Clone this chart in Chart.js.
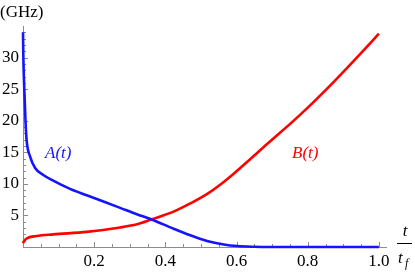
<!DOCTYPE html>
<html>
<head>
<meta charset="utf-8">
<script src="https://cdn.jsdelivr.net/npm/chart.js@4"></script>
<style>
  html, body { margin: 0; padding: 0; background: #fff; }
  #wrap { width: 415px; height: 273px; position: relative; }
</style>
</head>
<body>
<div id="wrap"><canvas id="chart"></canvas></div>
<script>
// A(t) curve
const aT = [0, 0.001, 0.004, 0.007, 0.01, 0.02, 0.034, 0.057, 0.085, 0.132, 0.179, 0.226, 0.273, 0.32, 0.36, 0.423, 0.47, 0.517, 0.564, 0.602, 0.648, 0.7, 1.0];
const aVals = [34, 30, 24.5, 20, 17, 14.3, 12.5, 11.4, 10.5, 9.2, 8.2, 7.2, 6.2, 5.2, 4.4, 2.9, 1.85, 0.95, 0.4, 0.15, 0.04, 0, 0];

// B(t) curve
const bT = [0, 0.002, 0.01, 0.038, 0.085, 0.179, 0.273, 0.32, 0.36, 0.423, 0.47, 0.52, 0.564, 0.592, 0.686, 0.78, 0.874, 0.968, 1.0];
const bVals = [0.6, 0.85, 1.35, 1.74, 2.0, 2.4, 3.1, 3.6, 4.35, 5.6, 6.9, 8.5, 10.3, 11.6, 16.3, 21.0, 26.2, 31.8, 33.8];

const xTickLabels = ['0.2', '0.4', '0.6', '0.8', '1.0'];
const yTickLabels = ['5', '10', '15', '20', '25', '30'];

const serif = "'Liberation Serif', 'Times New Roman', Times, 'DejaVu Serif', serif";
const axisGray = '#8c8c8c';

const toPoints = (xs, ys) => xs.map((x, i) => ({ x: x, y: ys[i] }));

// inward ticks like Mathematica + the text annotations
const decor = {
    id: 'decor',
    beforeDatasetsDraw(chart) {
        const ctx = chart.ctx, xs = chart.scales.x, ys = chart.scales.y;
        ctx.save();
        ctx.strokeStyle = axisGray;
        ctx.lineWidth = 1;
        for (let i = 1; i <= 20; i++) {
            const px = Math.round(xs.getPixelForValue(i * 0.05)) + 0.5;
            const len = i % 4 === 0 ? 5 : 3;
            ctx.beginPath();
            ctx.moveTo(px, ys.bottom);
            ctx.lineTo(px, ys.bottom - len);
            ctx.stroke();
        }
        for (let v = 1; v <= 34; v++) {
            const py = Math.round(ys.getPixelForValue(v)) + 0.5;
            const len = v % 5 === 0 ? 5 : 3;
            ctx.beginPath();
            ctx.moveTo(xs.left, py);
            ctx.lineTo(xs.left + len, py);
            ctx.stroke();
        }
        ctx.restore();
    },
    afterDraw(chart) {
        const ctx = chart.ctx;
        ctx.save();
        ctx.textBaseline = 'alphabetic';
        ctx.fillStyle = '#000';
        ctx.font = '17px ' + serif;
        ctx.textAlign = 'left';
        ctx.fillText('(GHz)', 0, 17);

        ctx.font = 'italic 17px ' + serif;
        ctx.fillStyle = 'rgb(20,20,255)';
        ctx.fillText('A(t)', 45, 158);
        ctx.fillStyle = 'rgb(255,0,0)';
        ctx.fillText('B(t)', 292, 158);

        // t / t_f
        ctx.fillStyle = '#000';
        ctx.textAlign = 'center';
        ctx.fillText('t', 405, 236);
        ctx.strokeStyle = '#000';
        ctx.lineWidth = 1;
        ctx.beginPath();
        ctx.moveTo(397, 243.5);
        ctx.lineTo(412, 243.5);
        ctx.stroke();
        ctx.textAlign = 'left';
        ctx.fillText('t', 398, 263);
        ctx.font = 'italic 12px ' + serif;
        ctx.fillText('f', 405, 267);
        ctx.restore();
    }
};

new Chart(document.getElementById('chart'), {
    type: 'line',
    data: {
        datasets: [
            {
                label: 'A(t)',
                data: toPoints(aT, aVals),
                borderColor: 'rgb(20,20,255)',
                borderWidth: 2.6,
                pointRadius: 0,
                cubicInterpolationMode: 'monotone',
                clip: false
            },
            {
                label: 'B(t)',
                data: toPoints(bT, bVals),
                borderColor: 'rgb(255,0,0)',
                borderWidth: 2.6,
                pointRadius: 0,
                cubicInterpolationMode: 'monotone',
                clip: false
            }
        ]
    },
    options: {
        responsive: true,
        maintainAspectRatio: false,
        animation: false,
        layout: { padding: { left: 0, top: 26, right: 29, bottom: 0 } },
        plugins: {
            legend: { display: false },
            tooltip: { enabled: false },
            title: { display: false }
        },
        scales: {
            x: {
                type: 'linear',
                min: 0,
                max: 1.02,
                grid: { display: false, drawTicks: false },
                border: { display: true, color: axisGray, width: 1 },
                ticks: {
                    stepSize: 0.2,
                    includeBounds: false,
                    maxRotation: 0,
                    padding: 4,
                    color: '#000',
                    font: { family: serif, size: 17 },
                    callback: (v) => {
                        const s = Number(v).toFixed(1);
                        return xTickLabels.includes(s) ? s : '';
                    }
                },
                afterFit: (s) => { s.height = 26; }
            },
            y: {
                min: 0,
                max: 35,
                grid: { display: false, drawTicks: false },
                border: { display: true, color: axisGray, width: 1 },
                ticks: {
                    stepSize: 5,
                    includeBounds: false,
                    padding: 4,
                    color: '#000',
                    font: { family: serif, size: 17 },
                    callback: (v) => {
                        const s = String(v);
                        return yTickLabels.includes(s) ? s : '';
                    }
                },
                afterFit: (s) => { s.width = 23; }
            }
        }
    },
    plugins: [decor]
});
</script>
</body>
</html>
